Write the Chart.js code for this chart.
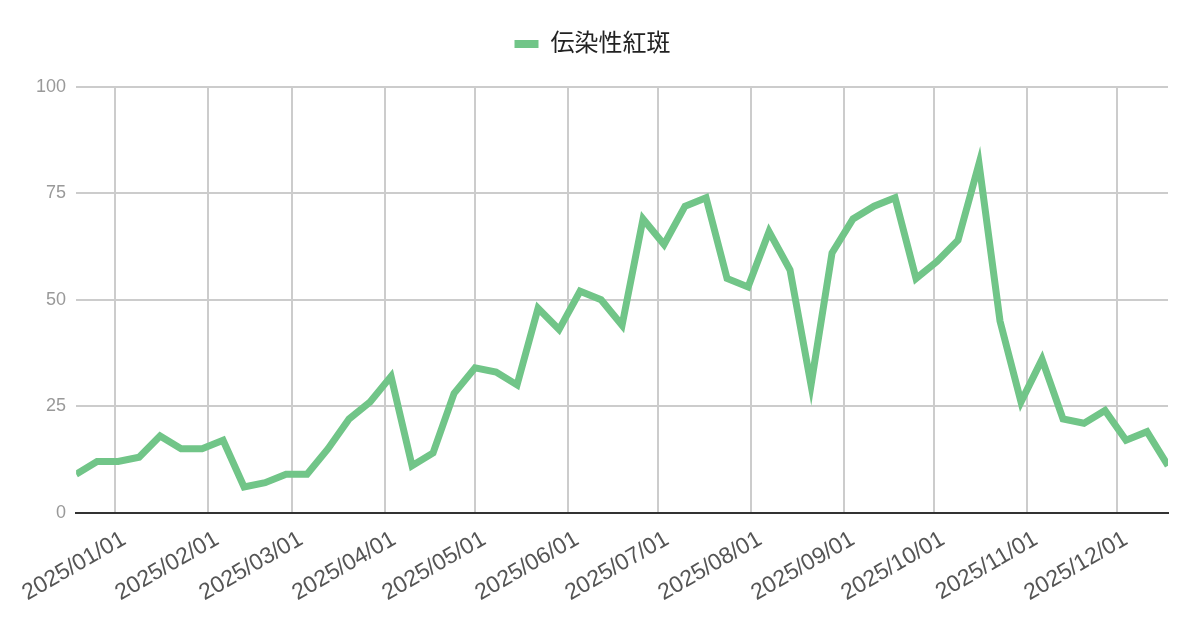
<!DOCTYPE html>
<html>
<head>
<meta charset="utf-8">
<script src="https://cdn.jsdelivr.net/npm/chart.js@4.4.1/dist/chart.umd.min.js"></script>
<style>
  html, body { margin: 0; padding: 0; background: #fff; }
  #wrap { width: 1200px; height: 626px; position: relative; }
</style>
</head>
<body>
<div id="wrap"><canvas id="myChart"></canvas></div>
<script>
// weekly reports
var weeks = [
  '2024-12-19','2024-12-26','2025-01-02','2025-01-09','2025-01-16','2025-01-23','2025-01-30',
  '2025-02-06','2025-02-13','2025-02-20','2025-02-27','2025-03-06','2025-03-13','2025-03-20',
  '2025-03-27','2025-04-03','2025-04-10','2025-04-17','2025-04-24','2025-05-01','2025-05-08',
  '2025-05-15','2025-05-22','2025-05-29','2025-06-05','2025-06-12','2025-06-19','2025-06-26',
  '2025-07-03','2025-07-10','2025-07-17','2025-07-24','2025-07-31','2025-08-07','2025-08-14',
  '2025-08-21','2025-08-28','2025-09-04','2025-09-11','2025-09-18','2025-09-25','2025-10-02',
  '2025-10-09','2025-10-16','2025-10-23','2025-10-30','2025-11-06','2025-11-13','2025-11-20',
  '2025-11-27','2025-12-04','2025-12-11','2025-12-18'
];
var casos = [
  9, 12, 12, 13, 18, 15, 15, 17, 6, 7,
  9, 9, 15, 22, 26, 32, 11, 14, 28, 34,
  33, 30, 48, 43, 52, 50, 44, 69, 63, 72,
  74, 55, 53, 66, 57, 30, 61, 69, 72, 74,
  55, 59, 64, 82, 45, 26, 36, 22, 21, 24,
  17, 19, 11
];
var serieNome = '伝染性紅斑';
var mesesTicks = [
  '2025/01/01','2025/02/01','2025/03/01','2025/04/01','2025/05/01','2025/06/01',
  '2025/07/01','2025/08/01','2025/09/01','2025/10/01','2025/11/01','2025/12/01'
];
var yTicks = [0, 25, 50, 75, 100];

var corLinha = '#71c588';
var fonte = "'Liberation Sans', Arial, 'Noto Sans CJK JP', sans-serif";

function toTime(s){
  var p = s.split(/[-\/]/);
  return Date.UTC(+p[0], +p[1]-1, +p[2]);
}
function fmt(v){
  var d = new Date(v);
  var m = ('0'+(d.getUTCMonth()+1)).slice(-2);
  var dd = ('0'+d.getUTCDate()).slice(-2);
  return d.getUTCFullYear()+'/'+m+'/'+dd;
}

var pontos = weeks.map(function(w, i){ return { x: toTime(w), y: casos[i] }; });

// um pouco de espaço abaixo da legenda
var legendaEspaco = {
  id: 'legendaEspaco',
  beforeInit: function(chart){
    var fitOrig = chart.legend.fit;
    chart.legend.fit = function(){
      fitOrig.bind(chart.legend)();
      this.height += 21;
    };
  }
};

var ctx = document.getElementById('myChart');
var myChart = new Chart(ctx, {
  type: 'line',
  plugins: [legendaEspaco],
  data: {
    datasets: [{
      label: serieNome,
      data: pontos,
      borderColor: corLinha,
      backgroundColor: corLinha,
      borderWidth: 7,
      pointRadius: 0,
      pointHoverRadius: 0,
      tension: 0,
      fill: false
    }]
  },
  options: {
    responsive: true,
    maintainAspectRatio: false,
    animation: false,
    layout: { padding: { top: 22, left: 17, right: 32, bottom: 6 } },
    plugins: {
      legend: {
        position: 'top',
        labels: {
          boxWidth: 24,
          boxHeight: 8,
          padding: 10,
          color: '#222',
          font: { family: fonte, size: 24 },
          generateLabels: function(chart){
            var itens = Chart.defaults.plugins.legend.labels.generateLabels(chart);
            itens.forEach(function(it){
              it.fillStyle = corLinha;
              it.strokeStyle = corLinha;
              it.lineWidth = 0;
            });
            return itens;
          }
        }
      },
      tooltip: { enabled: false }
    },
    scales: {
      x: {
        type: 'linear',
        min: toTime(weeks[0]),
        max: toTime(weeks[weeks.length-1]),
        afterBuildTicks: function(scale){
          scale.ticks = mesesTicks.map(function(t){ return { value: toTime(t) }; });
        },
        grid: { color: '#cccccc', lineWidth: 2, drawTicks: false },
        border: { display: true, color: '#333', width: 2 },
        ticks: {
          autoSkip: false,
          maxRotation: 30,
          minRotation: 30,
          padding: 13,
          labelOffset: 9,
          color: '#555',
          font: { family: fonte, size: 23 },
          callback: function(v){ return fmt(v); }
        }
      },
      y: {
        min: 0,
        max: 100,
        afterBuildTicks: function(scale){
          scale.ticks = yTicks.map(function(t){ return { value: t }; });
        },
        grid: { color: '#cccccc', lineWidth: 2, drawTicks: false },
        border: { display: false },
        ticks: {
          padding: 10,
          color: '#999',
          font: { family: fonte, size: 18 }
        }
      }
    }
  }
});
</script>
</body>
</html>
